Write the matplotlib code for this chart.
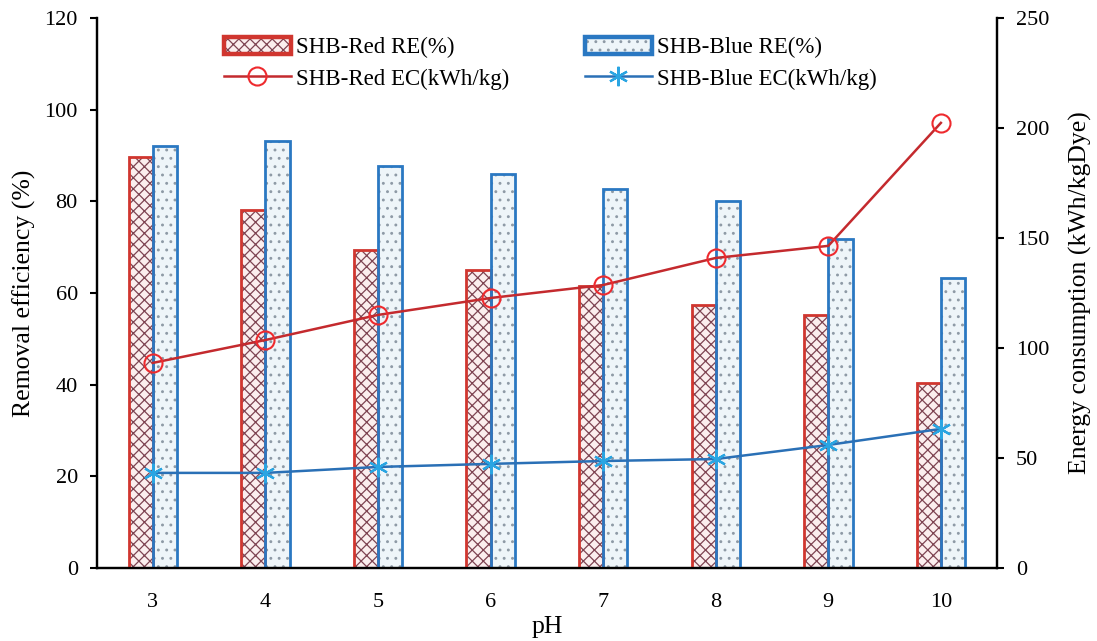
import matplotlib.pyplot as plt
import numpy as np
from matplotlib.legend_handler import HandlerTuple

plt.rcParams["font.family"] = ["Liberation Serif", "DejaVu Serif"]
plt.rcParams["hatch.linewidth"] = 0.9

ph = ["3", "4", "5", "6", "7", "8", "9", "10"]
red_re = [89.7, 78.1, 69.4, 65.0, 61.5, 57.4, 55.2, 40.4]
blue_re = [92.1, 93.2, 87.7, 86.0, 82.7, 80.1, 71.8, 63.3]
red_ec = [93.2, 103.6, 115.0, 122.7, 128.6, 140.9, 146.4, 202.3]
blue_ec = [43.2, 43.2, 45.9, 47.3, 48.6, 49.5, 55.9, 63.2]

x = np.arange(len(ph))
w = 0.215

fig, ax = plt.subplots(figsize=(10.97, 6.41), dpi=100)
fig.subplots_adjust(left=0.088, right=0.909, top=0.972, bottom=0.114)

# hatched fill and outline drawn separately so the hatch keeps its own colour
r_fill = ax.bar(x - w / 2, red_re, w, facecolor="#fbeeee", edgecolor="#7e4452",
                hatch="xxx", linewidth=0, zorder=2)
r_edge = ax.bar(x - w / 2, red_re, w, facecolor="none", edgecolor="#d0362f",
                linewidth=2.0, zorder=3)
b_fill = ax.bar(x + w / 2, blue_re, w, facecolor="#eef5f9", edgecolor="#8e9aa6",
                hatch="..", linewidth=0, zorder=2)
b_edge = ax.bar(x + w / 2, blue_re, w, facecolor="none", edgecolor="#2a78c2",
                linewidth=2.0, zorder=3)

ax.set_xlim(-0.5, len(ph) - 0.5)
ax.set_ylim(0, 120)
ax.set_yticks(np.arange(0, 121, 20))
ax.set_xticks(x)
ax.set_xticklabels(ph)
ax.tick_params(axis="x", length=0, labelsize=16, pad=18)
ax.tick_params(axis="y", direction="out", length=5, width=1.5, labelsize=16, pad=8.5)
ax.set_xlabel("pH", fontsize=18.5, labelpad=3)
ax.set_ylabel("Removal efficiency (%)", fontsize=18.5, labelpad=6)
ax.spines["top"].set_visible(False)
for s in ("left", "bottom", "right"):
    ax.spines[s].set_linewidth(1.6)

ax2 = ax.twinx()
l_red, = ax2.plot(x, red_ec, color="#c42a2e", lw=1.8, marker="o", ms=13,
                  mfc="none", mec="#ee2a2e", mew=1.5, zorder=4)
l_blue, = ax2.plot(x, blue_ec, color="#2a70b6", lw=1.8, marker=(6, 2, 0), ms=14,
                   mec="#2aa5e2", mew=1.6, zorder=4)
ax2.set_ylim(0, 250)
ax2.set_yticks(np.arange(0, 251, 50))
ax2.tick_params(axis="y", direction="out", length=5, width=1.5, labelsize=16, pad=8.5)
ax2.set_ylabel("Energy consumption (kWh/kgDye)", fontsize=18.5, labelpad=14)
ax2.spines["top"].set_visible(False)
for s in ("left", "bottom", "right"):
    ax2.spines[s].set_linewidth(1.6)

# thicker outline on the legend swatches
r_key = plt.Rectangle((0, 0), 1, 1, facecolor="none", edgecolor="#d0362f", linewidth=3.2)
b_key = plt.Rectangle((0, 0), 1, 1, facecolor="none", edgecolor="#2a78c2", linewidth=3.2)
handles = [(r_fill[0], r_key), l_red, (b_fill[0], b_key), l_blue]
labels = ["SHB-Red RE(%)", "SHB-Red EC(kWh/kg)", "SHB-Blue RE(%)", "SHB-Blue EC(kWh/kg)"]
leg = ax2.legend(handles, labels, ncol=2, loc="center left",
                 bbox_to_anchor=(0.129, 0.918), frameon=False, fontsize=16.5,
                 borderpad=0, handlelength=2.9, handleheight=0.8, handletextpad=0.25,
                 columnspacing=3.3, labelspacing=0.42,
                 handler_map={tuple: HandlerTuple(ndivide=1)})

fig.savefig("out.png", dpi=100)
